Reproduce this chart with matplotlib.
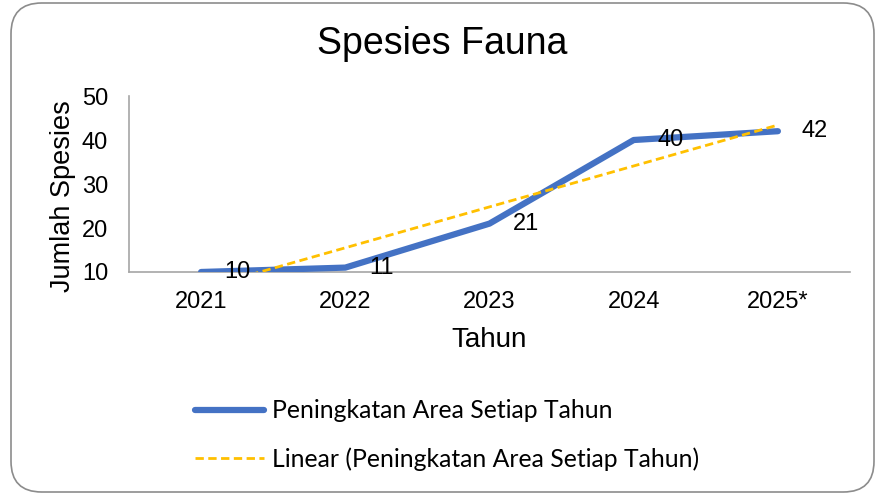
import matplotlib.pyplot as plt
import numpy as np
from matplotlib.patches import FancyBboxPatch

# --- data ---
years = ["2021", "2022", "2023", "2024", "2025*"]
species = [10, 11, 21, 40, 42]
series_name = "Peningkatan Area Setiap Tahun"

plt.rcParams['font.family'] = ['Liberation Sans', 'DejaVu Sans']

fig = plt.figure(figsize=(8.76, 4.94), dpi=100)
ax = fig.add_axes([129 / 876, 1 - 272 / 494, (850 - 129) / 876, (272 - 96) / 494])

x = np.arange(len(years))
blue = '#4472C4'
orange = '#FFC000'

ax.plot(x, species, color=blue, lw=4.5, solid_capstyle='round',
        label=series_name, zorder=3)

# linear trendline (least squares fit of the series), over the data range
slope, intercept = np.polyfit(x, species, 1)
tx = np.array([x[0], x[-1]])
ax.plot(tx, slope * tx + intercept, color=orange, lw=2, ls=(0, (3, 1.6)),
        label="Linear (" + series_name + ")", zorder=4)

for xi, yi in zip(x, species):
    ax.annotate(str(yi), (xi, yi), xytext=(17, 0), textcoords='offset points',
                ha='left', va='center', fontsize=17, zorder=5)

ax.set_xlim(-0.5, 4.5)
ax.set_ylim(10, 50)
ax.set_yticks([10, 20, 30, 40, 50])
ax.set_xticks(x)
ax.set_xticklabels(years)
ax.tick_params(length=0, labelsize=17)
ax.tick_params(axis='y', pad=15)
ax.tick_params(axis='x', pad=14)
for s in ['top', 'right']:
    ax.spines[s].set_visible(False)
for s in ['left', 'bottom']:
    ax.spines[s].set_color('#A6A6A6')
    ax.spines[s].set_linewidth(1.2)

ax.set_xlabel("Tahun", fontsize=20, labelpad=10)
ax.set_ylabel("Jumlah Spesies", fontsize=19.5, labelpad=4)
ax.yaxis.label.set_y(0.43)
fig.text(0.505, 0.911, "Spesies Fauna", ha='center', va='center', fontsize=27)

leg = fig.legend(loc='center left', bbox_to_anchor=(195 / 876, 1 - 435 / 494),
                 frameon=False, prop={'family': 'Lato', 'size': 17.8},
                 handlelength=2.8, labelspacing=1.0, handletextpad=0.3,
                 borderpad=0, borderaxespad=0)

# rounded chart border
border = FancyBboxPatch((11 / 876, 2 / 494), 863 / 876, 489 / 494,
                        boxstyle="round,pad=0,rounding_size=0.035",
                        transform=fig.transFigure, fill=False,
                        edgecolor='#8C8C8C', lw=1.2, mutation_aspect=876 / 494)
fig.patches.append(border)

fig.savefig("out.png", dpi=100)
